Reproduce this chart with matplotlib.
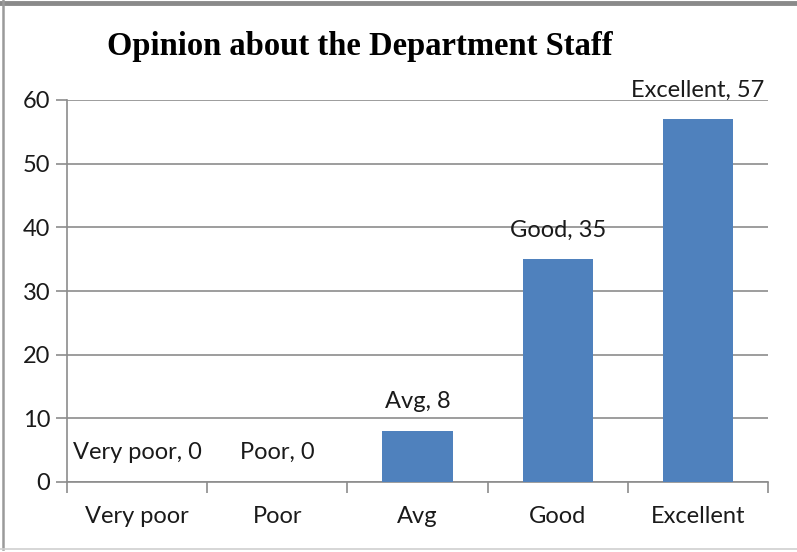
import matplotlib
matplotlib.use("Agg")
import matplotlib.pyplot as plt
from matplotlib.lines import Line2D

categories = ["Very poor", "Poor", "Avg", "Good", "Excellent"]
values = [0, 0, 8, 35, 57]
yticks = [0, 10, 20, 30, 40, 50, 60]
title = "Opinion about the Department Staff"

W, H = 797, 552
fig = plt.figure(figsize=(W / 100, H / 100), dpi=100)
fig.patch.set_facecolor("white")

# axes position in pixels: left 67, right 768, top 100 (y=60), bottom 482 (y=0)
l, r, t, b = 67, 768, 100, 482
ax = fig.add_axes([l / W, 1 - b / H, (r - l) / W, (b - t) / H])

x = list(range(len(categories)))
ax.bar(x, values, width=0.5, color="#4f81bd", zorder=3)
ax.set_xlim(-0.5, len(categories) - 0.5)
ax.set_ylim(0, 60)
ax.set_yticks(yticks)
ax.set_yticklabels([str(v) for v in yticks])
ax.yaxis.grid(True, color="#8c8c8c", linewidth=1.2, zorder=0)
ax.set_axisbelow(True)

for s in ["top", "right"]:
    ax.spines[s].set_visible(False)
for s in ["left", "bottom"]:
    ax.spines[s].set_color("#8c8c8c")
    ax.spines[s].set_linewidth(1.2)

font = "Lato"
fs = 17
ax.tick_params(axis="y", length=8, width=1.2, color="#8c8c8c", labelsize=fs, pad=4)
ax.tick_params(axis="x", which="major", length=0, labelsize=fs, pad=17)
ax.set_xticks(x)
ax.set_xticklabels(categories)
ax.set_xticks([i - 0.5 for i in range(len(categories) + 1)], minor=True)
ax.tick_params(axis="x", which="minor", length=8, width=1.2, color="#8c8c8c")
for lab in ax.get_xticklabels() + ax.get_yticklabels():
    lab.set_fontfamily(font)
    lab.set_color("#1a1a1a")

for xi, (c, v) in enumerate(zip(categories, values)):
    ax.annotate(f"{c}, {v}", (xi, v), xytext=(0, 21), textcoords="offset points",
                ha="center", va="center", fontsize=fs, family=font, color="#1a1a1a")

fig.text(360 / W, 1 - 47 / H, title, ha="center", va="center",
         fontsize=23.5, fontweight="bold", family="Liberation Serif", color="black")

# frame
fig.add_artist(Line2D([0, 1], [1 - 3 / H, 1 - 3 / H], transform=fig.transFigure,
                      color="#8a8a8a", linewidth=3.5))
fig.add_artist(Line2D([3 / W, 3 / W], [0.005, 1], transform=fig.transFigure,
                      color="#9a9a9a", linewidth=1.8))
fig.add_artist(Line2D([0, 1], [3 / H, 3 / H], transform=fig.transFigure,
                      color="#d0d0d0", linewidth=1.2))

fig.savefig("out.png", dpi=100, facecolor="white")
